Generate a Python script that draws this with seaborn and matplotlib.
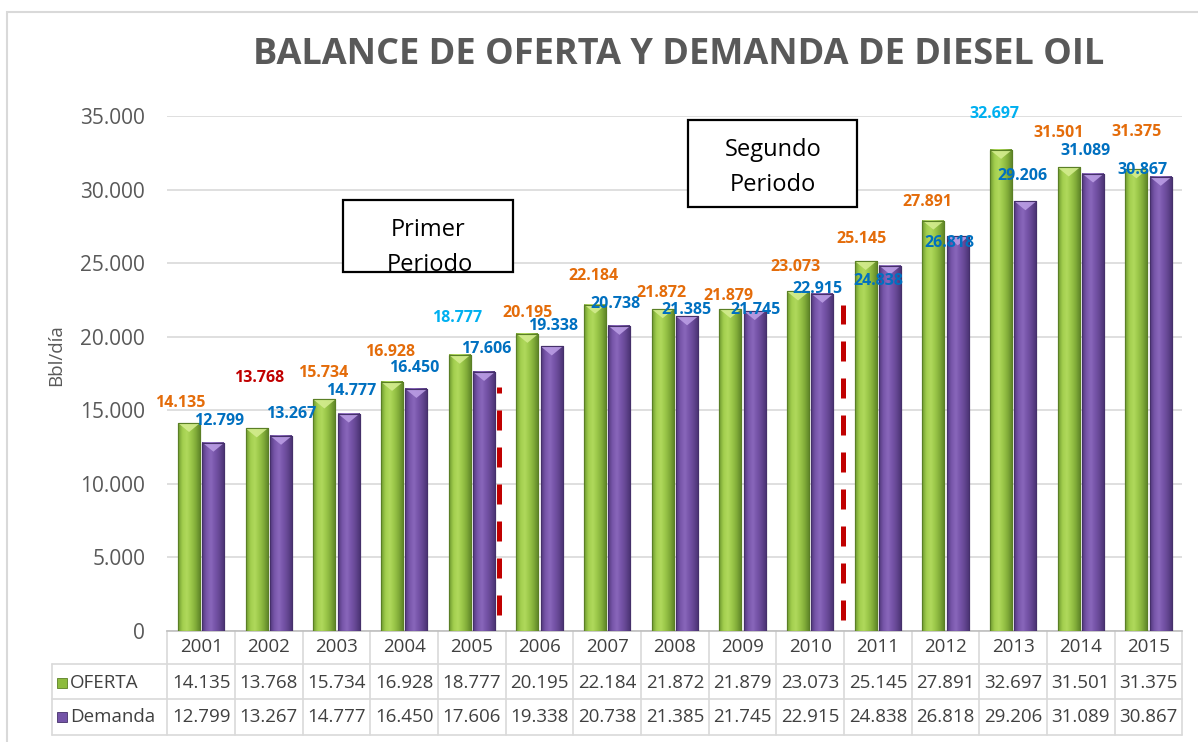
import numpy as np
import pandas as pd
import matplotlib
matplotlib.use("Agg")
import matplotlib.pyplot as plt
import matplotlib.patches as mpatches
from matplotlib.colors import LinearSegmentedColormap
from matplotlib.transforms import blended_transform_factory
import seaborn as sns

# ---- data -------------------------------------------------------------
years = ["2001", "2002", "2003", "2004", "2005", "2006", "2007", "2008",
         "2009", "2010", "2011", "2012", "2013", "2014", "2015"]
oferta = [14135, 13768, 15734, 16928, 18777, 20195, 22184, 21872,
          21879, 23073, 25145, 27891, 32697, 31501, 31375]
demanda = [12799, 13267, 14777, 16450, 17606, 19338, 20738, 21385,
           21745, 22915, 24838, 26818, 29206, 31089, 30867]
series = ["OFERTA", "Demanda"]

# ---- styling ----------------------------------------------------------
W, H = 1198, 742
GRAY_TXT = "#595959"
GRID = "#D9D9D9"
ORANGE, RED, SKY, BLUE = "#E46C0A", "#C00000", "#00B0F0", "#0070C0"

oferta_lbl_colors = [ORANGE, RED, ORANGE, ORANGE, SKY, ORANGE, ORANGE, ORANGE,
                     ORANGE, ORANGE, ORANGE, ORANGE, SKY, ORANGE, ORANGE]
demanda_lbl_colors = [BLUE] * len(years)

# manual label nudges (pixels) relative to bar top centre
oferta_off = [(-9, 20), (2, 50), (-1, 26), (-2, 30), (-3, 37), (0, 21), (-2, 29),
              (-1, 16), (-2, 13), (-3, 24), (-4, 22), (-6, 19), (-7, 36),
              (-10, 34), (0, 37)]
demanda_off = [(6, 22), (10, 22), (2, 23), (-2, 21), (2, 23), (1, 20), (-4, 22),
               (-1, 6), (1, 1), (-5, 5), (-12, -15), (-8, -7), (-3, 25),
               (-8, 23), (-18, 7)]

bar_grad = {
    "OFERTA": ["#6E9A30", "#A2CE4E", "#B0D95C", "#9CC84A", "#83AE3A", "#62892A"],
    "Demanda": ["#52397D", "#7856AA", "#8967BB", "#7755A9", "#654793", "#4D3576"],
}
bar_cap = {"OFERTA": "#D3EC8E", "Demanda": "#BA9DE4"}
bar_edge = {"OFERTA": "#5A7F25", "Demanda": "#45306A"}
marker_col = {"OFERTA": "#8DBB3E", "Demanda": "#7454A8"}

sns.set_style("white")
plt.rcParams["font.family"] = ["Open Sans", "DejaVu Sans"]


def fpx(x, y):
    """pixel position (from top-left) -> figure fraction"""
    return x / W, 1 - y / H


def fmt(v):
    return f"{v:,}".replace(",", ".")


df = pd.DataFrame({
    "year": years * 2,
    "serie": [series[0]] * len(years) + [series[1]] * len(years),
    "valor": oferta + demanda,
})

fig = plt.figure(figsize=(W / 100, H / 100), dpi=100)
ax_l, ax_b = fpx(167.4, 631)
ax = fig.add_axes([ax_l, ax_b, 1015 / W, 515 / H])

sns.barplot(data=df, x="year", y="valor", hue="serie", hue_order=series,
            order=years, palette=[marker_col[s] for s in series],
            width=0.72, gap=0.1, legend=False, errorbar=None, ax=ax,
            zorder=3)

ax.set_xlim(-0.5, len(years) - 0.5)
ax.set_ylim(0, 35000)
ax.set_yticks(np.arange(0, 35001, 5000))
ax.set_yticklabels([fmt(int(t)) for t in ax.get_yticks()], fontsize=15,
                   color=GRAY_TXT)
ax.tick_params(axis="y", length=0, pad=16)
ax.tick_params(axis="x", length=0, labelbottom=False)
ax.set_xlabel("")
ax.set_ylabel("")
ax.yaxis.grid(True, color=GRID, linewidth=1.2)
ax.set_axisbelow(True)
for sp in ["top", "right", "left"]:
    ax.spines[sp].set_visible(False)
ax.spines["bottom"].set_color("#BFBFBF")
ax.spines["bottom"].set_linewidth(1.2)

# ---- pseudo 3D bars ---------------------------------------------------
fig.canvas.draw()
inv = ax.transData.inverted()
cap_h = inv.transform((0, 9))[1] - inv.transform((0, 0))[1]

for cont, name, vals, offs, cols in zip(
        ax.containers, series, [oferta, demanda],
        [oferta_off, demanda_off], [oferta_lbl_colors, demanda_lbl_colors]):
    cmap = LinearSegmentedColormap.from_list(name, bar_grad[name])
    grad = np.linspace(0, 1, 64).reshape(1, -1)
    for bar, v, (dx, dy), c in zip(cont, vals, offs, cols):
        x0, w, h = bar.get_x(), bar.get_width(), bar.get_height()
        bar.set_edgecolor(bar_edge[name])
        bar.set_linewidth(0.8)
        ax.imshow(grad, extent=[x0, x0 + w, 0, h], cmap=cmap, aspect="auto",
                  zorder=3.5, interpolation="bicubic")
        ax.add_patch(mpatches.Polygon(
            [(x0, h), (x0 + w, h), (x0 + w / 2, h - cap_h)],
            closed=True, facecolor=bar_cap[name], edgecolor="none",
            alpha=0.9, zorder=3.6))
        ax.add_patch(mpatches.Rectangle((x0, 0), w, h, fill=False,
                                        edgecolor=bar_edge[name], lw=0.8,
                                        zorder=3.7))
        ax.annotate(fmt(v), (x0 + w / 2, h), xytext=(dx, dy),
                    textcoords="offset pixels", ha="center", va="center",
                    fontsize=11.5, fontweight="bold", color=c, zorder=6)

ax.set_xlim(-0.5, len(years) - 0.5)
ax.set_ylim(0, 35000)

# ---- period separators ------------------------------------------------
for xs, y0, y1 in [(4.40, 1100, 16550), (9.48, 750, 22150)]:
    ax.plot([xs, xs], [y0, y1], color="#C00000", lw=3.6,
            dashes=(4, 3.4), zorder=5, solid_capstyle="butt")

# ---- data table below the axis ---------------------------------------
tr = blended_transform_factory(ax.transData, ax.transAxes)
ax_h = 515.0
row_y = [-(647 - 631) / ax_h, -(683 - 631) / ax_h, -(717 - 631) / ax_h]
line_y = [-(664 - 631) / ax_h, -(699 - 631) / ax_h, -(735 - 631) / ax_h]
first_col = -0.5 - (167.4 - 52) / 67.67
n = len(years)
tbl_kw = dict(transform=tr, clip_on=False, color=GRID, lw=1.2, zorder=1)
for i in range(n + 1):
    ax.plot([i - 0.5, i - 0.5], [0, line_y[-1]], **tbl_kw)
ax.plot([first_col, first_col], [line_y[0], line_y[-1]], **tbl_kw)
for ly in line_y:
    ax.plot([first_col, n - 0.5], [ly, ly], **tbl_kw)

tbl_fs = 13.5
for i, yr in enumerate(years):
    ax.text(i, row_y[0], yr, transform=tr, ha="center", va="center",
            fontsize=tbl_fs, color="#404040")
    ax.text(i, row_y[1], fmt(oferta[i]), transform=tr, ha="center",
            va="center", fontsize=tbl_fs, color="#404040")
    ax.text(i, row_y[2], fmt(demanda[i]), transform=tr, ha="center",
            va="center", fontsize=tbl_fs, color="#404040")

mk_x = -0.5 - (167.4 - 62) / 67.67
txt_x = -0.5 - (167.4 - 70) / 67.67
for name, ry in zip(series, row_y[1:]):
    ax.plot([mk_x], [ry], marker="s", markersize=7.5, color=marker_col[name],
            markeredgecolor=bar_edge[name], markeredgewidth=0.6,
            transform=tr, clip_on=False)
    ax.text(txt_x, ry, name, transform=tr, ha="left", va="center",
            fontsize=tbl_fs, color="#404040")

# ---- titles / labels --------------------------------------------------
fig.text(*fpx(679, 55), "BALANCE DE OFERTA Y DEMANDA DE DIESEL OIL",
         ha="center", va="center", fontsize=26, fontweight="bold",
         color=GRAY_TXT)
fig.text(*fpx(56, 355), "Bbl/día", rotation=90, ha="center", va="center",
         fontsize=13.5, color=GRAY_TXT)

# ---- period boxes -----------------------------------------------------
boxes = [
    ((343, 200, 513, 272), ("Primer", 428, 230), ("Periodo", 430, 265)),
    ((688, 120, 857, 207), ("Segundo", 773, 150), ("Periodo", 773, 185)),
]
for (bx0, by0, bx1, by1), t1, t2 in boxes:
    fx0, fy1 = fpx(bx0, by0)
    fx1, fy0 = fpx(bx1, by1)
    fig.patches.append(mpatches.Rectangle(
        (fx0, fy0), fx1 - fx0, fy1 - fy0, transform=fig.transFigure,
        facecolor="white", edgecolor="black", lw=1.6, zorder=4))
    for s, tx, ty in (t1, t2):
        fig.text(*fpx(tx, ty), s, ha="center", va="center", fontsize=17,
                 color="black", zorder=5)

# outer chart frame
fig.patches.append(mpatches.Rectangle(
    fpx(7, 760), 1.1, (760 - 12) / H, transform=fig.transFigure,
    fill=False, edgecolor="#D9D9D9", lw=1.5, zorder=0))

fig.savefig("out.png", dpi=100)
